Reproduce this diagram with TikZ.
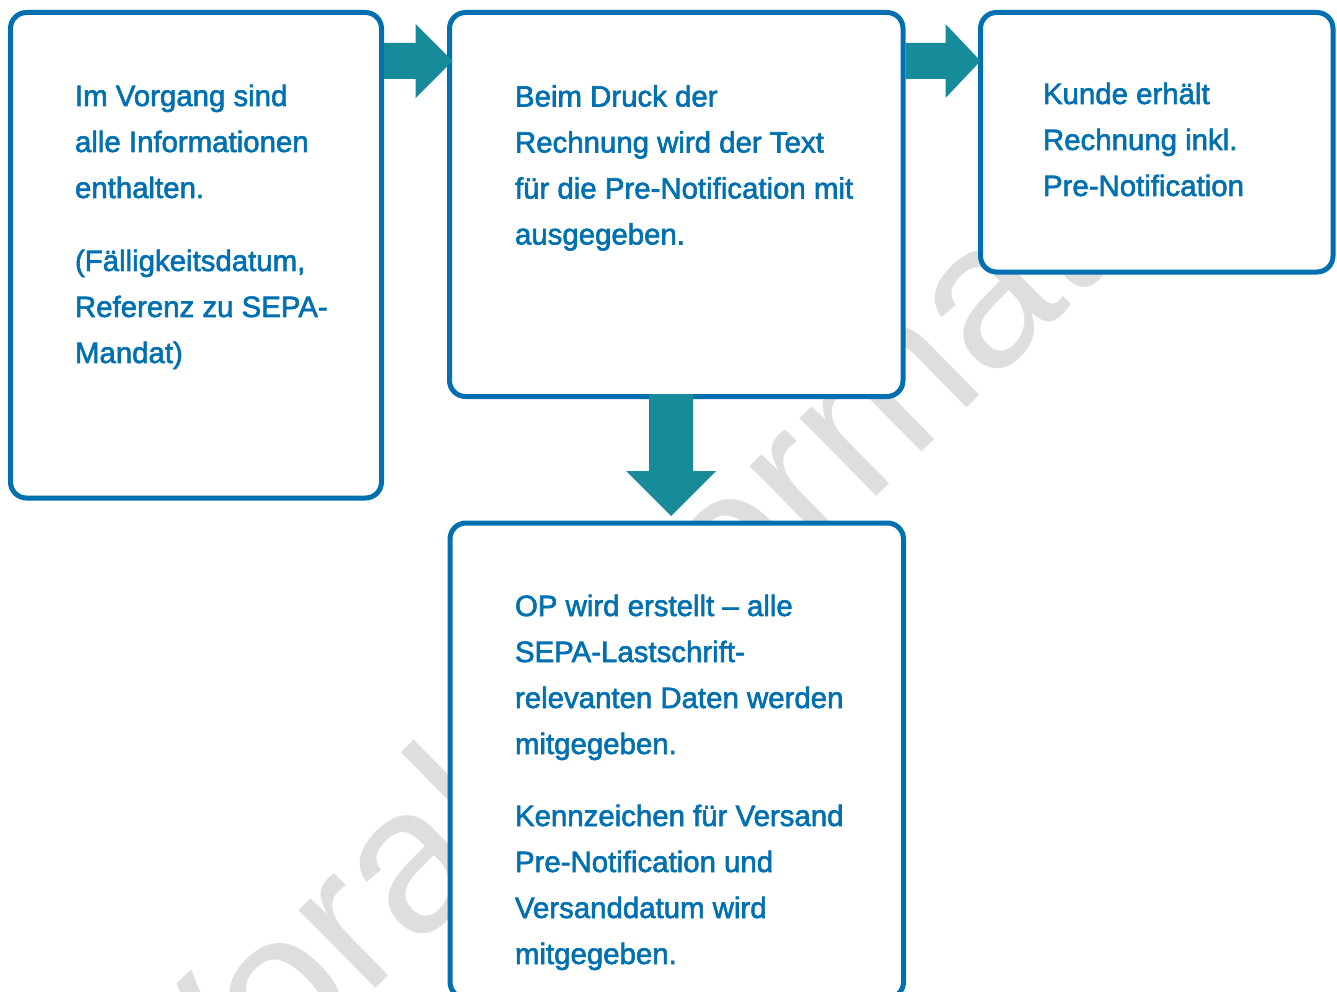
\documentclass[tikz,border=0pt]{standalone}
\usepackage{fontspec}
\setmainfont{Liberation Sans}
\newfontfamily\bodyfont[FakeBold=2]{Liberation Sans}
\usetikzlibrary{calc}
\definecolor{boxblue}{RGB}{0,112,176}
\definecolor{arrowteal}{RGB}{22,139,154}
\definecolor{wmgray}{RGB}{222,222,222}

% horizontal block arrow: start, tip, shaft half width, head half width, head length
\newcommand\flowright[5]{%
  \fill[flow] ($(#1)+(0,-#3)$) -- ($(#2)+(-#5,-#3)$) -- ($(#2)+(-#5,-#4)$) -- (#2)
    -- ($(#2)+(-#5,#4)$) -- ($(#2)+(-#5,#3)$) -- ($(#1)+(0,#3)$) -- cycle;}
% vertical block arrow pointing down
\newcommand\flowdown[5]{%
  \fill[flow] ($(#1)+(-#3,0)$) -- ($(#2)+(-#3,-#5)$) -- ($(#2)+(-#4,-#5)$) -- (#2)
    -- ($(#2)+(#4,-#5)$) -- ($(#2)+(#3,-#5)$) -- ($(#1)+(#3,0)$) -- cycle;}

\begin{document}
\begin{tikzpicture}[x=1pt,y=-1pt,
  box/.style={draw=boxblue, line width=5pt, rounded corners=16pt, fill=white,
    inner sep=0pt, outer sep=0pt},
  body/.style={anchor=base west, inner sep=0pt, outer sep=0pt, text=boxblue,
    font=\bodyfont\fontsize{29.4}{46}\selectfont},
  flow/.style={fill=arrowteal, draw=none}]
\useasboundingbox (0,0) rectangle (1337,992);
\clip (0,0) rectangle (1337,992);

% watermark behind everything
\node[anchor=base west, rotate=44.5, text=wmgray, inner sep=0pt,
  font=\fontsize{207}{207}\selectfont] (wm) at (193,1168) {Vorabinformation};

% process boxes
\node[box, minimum width=371pt, minimum height=485.5pt] (b1) at (196,255.25) {};
\node[box, minimum width=453.5pt, minimum height=384pt] (b2) at (676.25,204.5) {};
\node[box, minimum width=352.5pt, minimum height=259.5pt] (b3) at (1156.75,142.25) {};
\node[box, minimum width=453.5pt, minimum height=475pt] (b4) at (676.75,760.5) {};

% box texts
\node[body] (t1) at (75,106) {\vtop{\hbox{Im Vorgang sind}\hbox{alle Informationen}%
  \hbox{enthalten.}\vskip27pt\hbox{(Fälligkeitsdatum,}\hbox{Referenz zu SEPA-}\hbox{Mandat)}}};
\node[body] (t2) at (515,106.5) {\vtop{\hbox{Beim Druck der}\hbox{Rechnung wird der Text}%
  \hbox{für die Pre-Notification mit}\hbox{ausgegeben.}}};
\node[body] (t3) at (1043,104) {\vtop{\hbox{Kunde erhält}\hbox{Rechnung inkl.}%
  \hbox{Pre-Notification}}};
\node[body] (t4) at (515,616) {\vtop{\hbox{OP wird erstellt – alle}\hbox{SEPA-Lastschrift-}%
  \hbox{relevanten Daten werden}\hbox{mitgegeben.}\vskip26pt\hbox{Kennzeichen für Versand}%
  \hbox{Pre-Notification und}\hbox{Versanddatum wird}\hbox{mitgegeben.}}};

% block arrows between the boxes
\coordinate (a1s) at ($(b1.north east)+(2.5,48.5)$);
\coordinate (a1t) at ($(b2.north west)+(3,48.5)$);
\flowright{a1s}{a1t}{18}{37}{37}
\coordinate (a2s) at ($(b2.north east)+(2.5,48.5)$);
\coordinate (a2t) at ($(b3.north west)+(0,48.5)$);
\flowright{a2s}{a2t}{18}{37}{35}
\coordinate (a3s) at ($(b2.south)+(-5,-2.5)$);
\coordinate (a3t) at ($(b4.north)+(-5.75,-7)$);
\flowdown{a3s}{a3t}{22}{45}{45}
\end{tikzpicture}
\end{document}
